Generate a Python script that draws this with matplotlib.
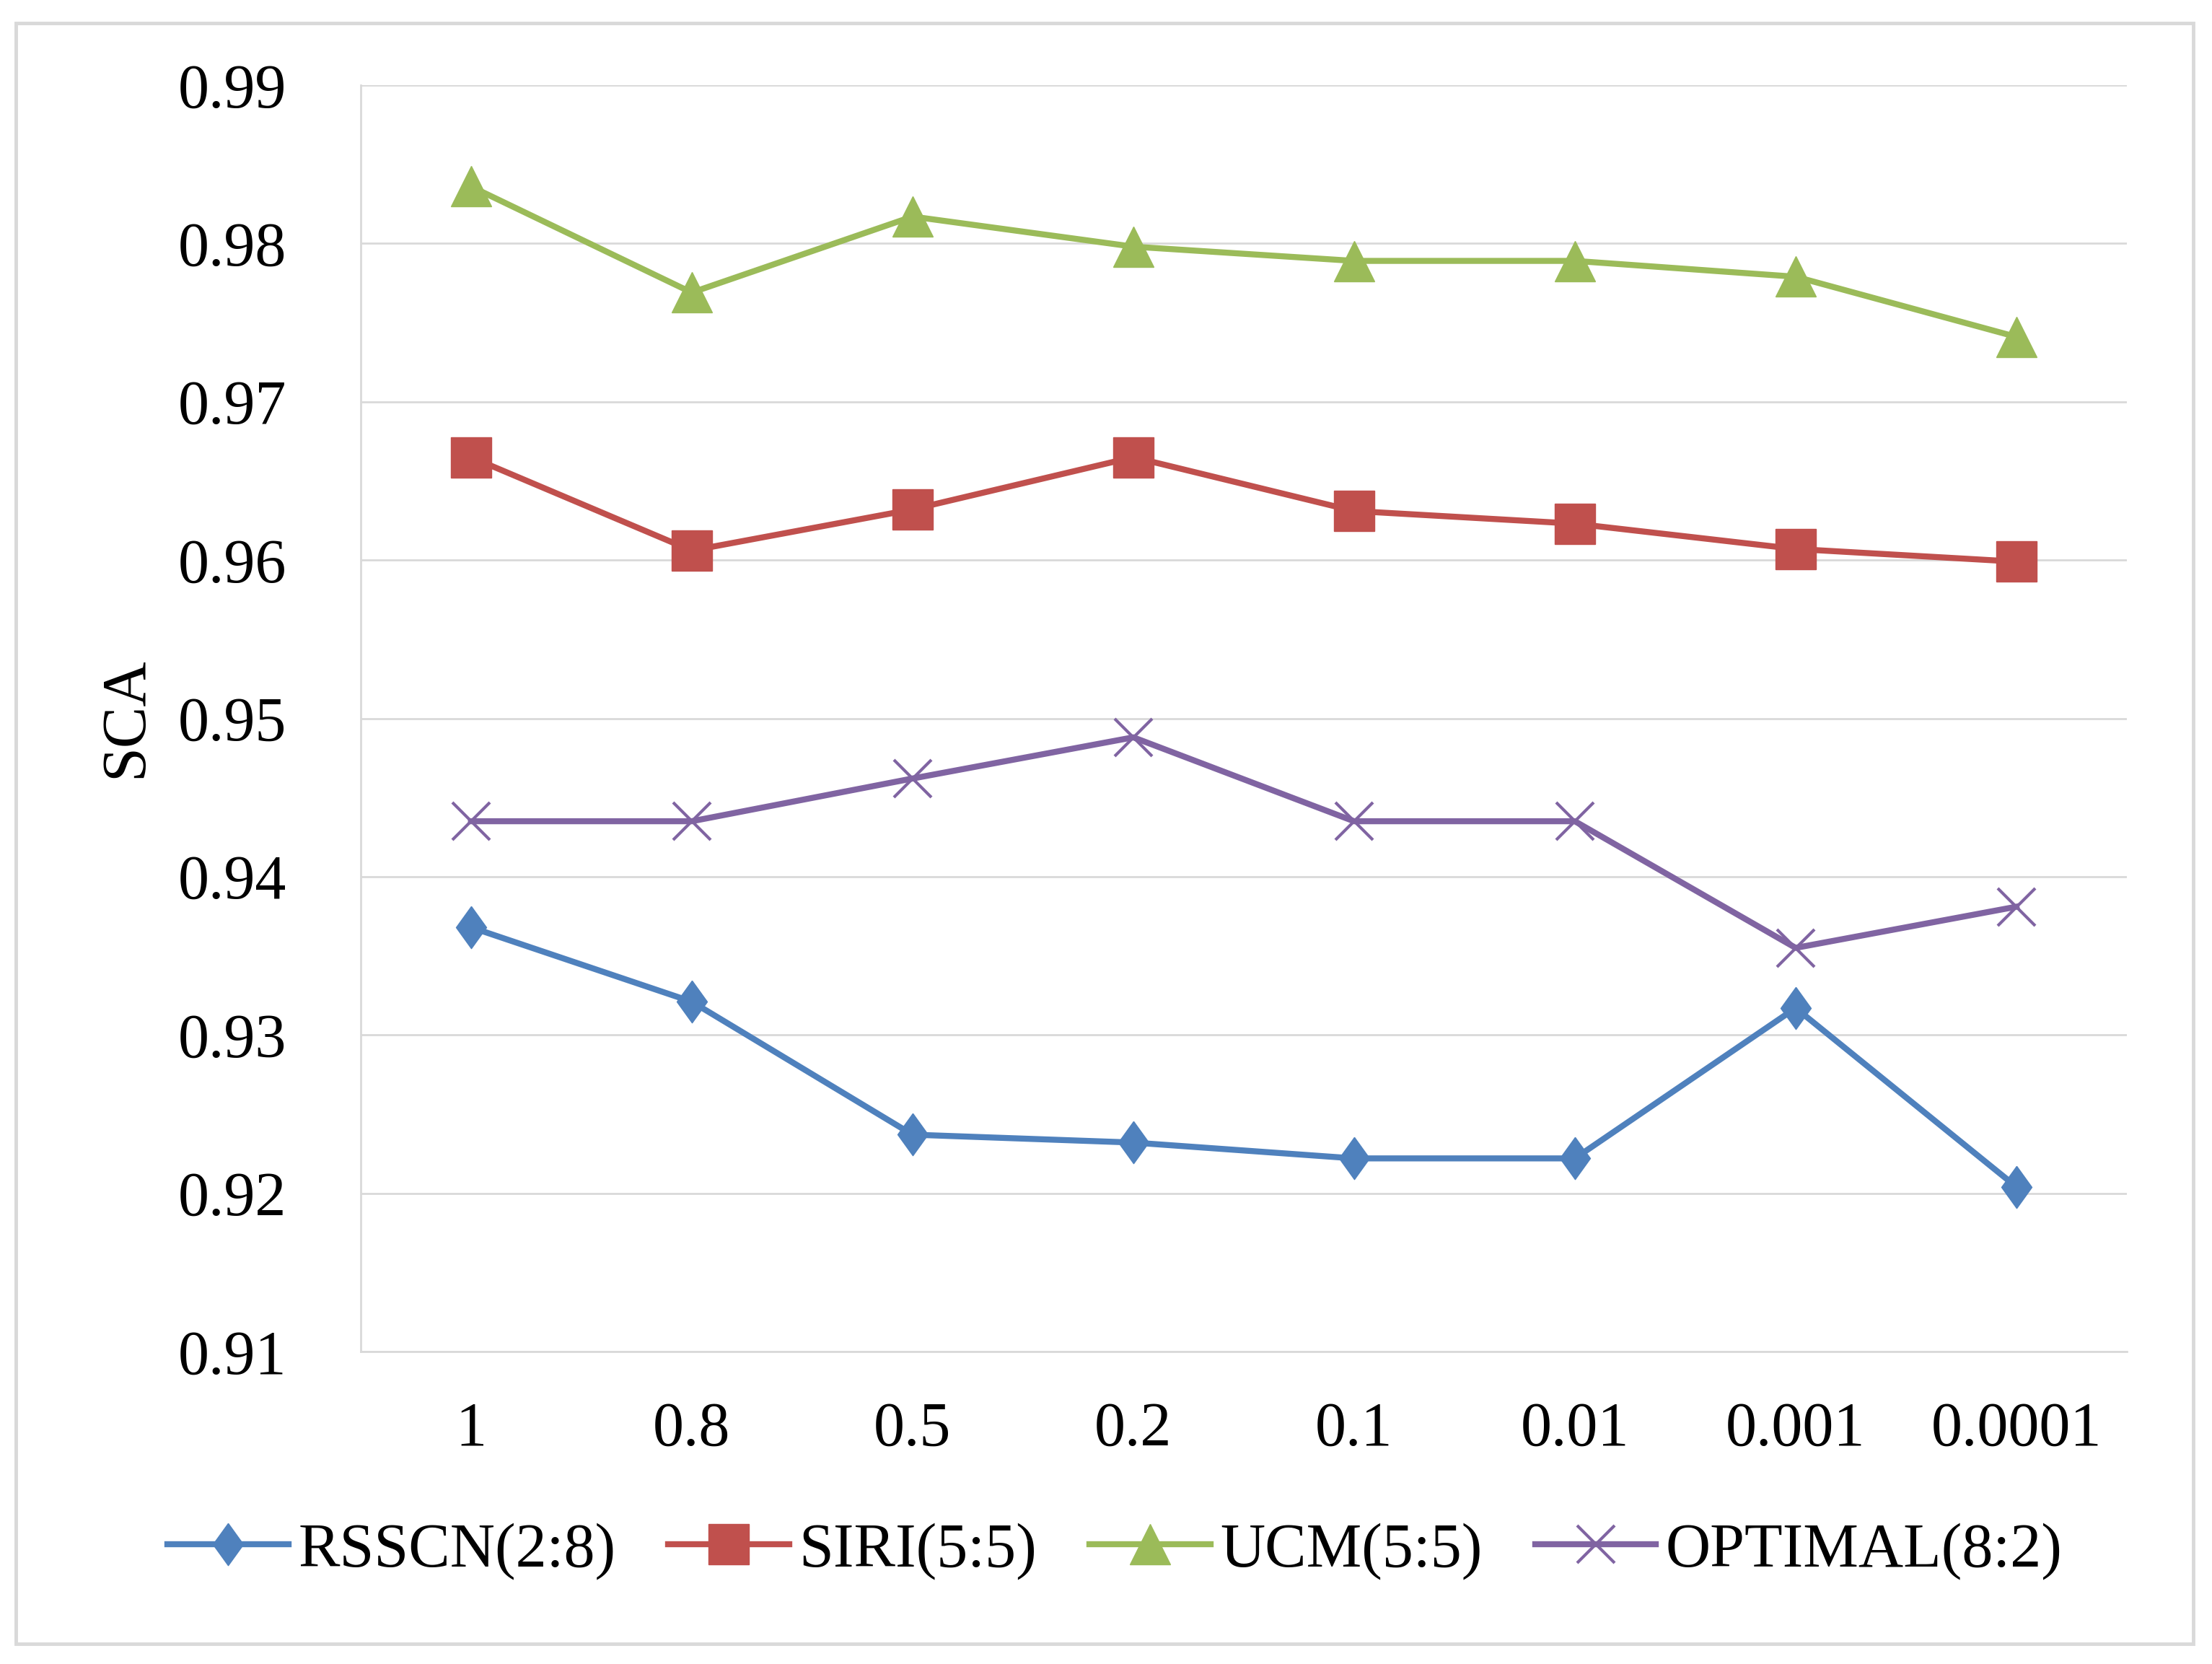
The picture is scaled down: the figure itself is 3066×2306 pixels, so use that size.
import matplotlib.pyplot as plt
from matplotlib.patches import Rectangle

# x categories (learning rate?) and SCA values
labels = ['1', '0.8', '0.5', '0.2', '0.1', '0.01', '0.001', '0.0001']

rsscn = [0.9368, 0.9321, 0.9237, 0.9232, 0.9222, 0.9222, 0.9317, 0.9204]
siri = [0.9665, 0.9606, 0.9632, 0.9665, 0.9631, 0.9623, 0.9607, 0.9599]
ucm = [0.9836, 0.9769, 0.9817, 0.9798, 0.9789, 0.9789, 0.9779, 0.9741]
optimal = [0.9435, 0.9435, 0.9462, 0.9488, 0.9435, 0.9435, 0.9355, 0.9381]

yticks = [0.91, 0.92, 0.93, 0.94, 0.95, 0.96, 0.97, 0.98, 0.99]

plt.rcParams['font.family'] = ['Liberation Serif', 'DejaVu Serif']

fig = plt.figure(figsize=(30.66, 23.06), dpi=100)
ax = fig.add_axes([0.163, 0.1878, 0.7985, 0.761])

# slightly tall diamond like the Excel one
diamond = [(0, 1), (0.72, 0), (0, -1), (-0.72, 0), (0, 1)]

x = list(range(len(labels)))
lw = 6
ax.plot(x, rsscn, color='#4F81BD', lw=lw, marker=diamond, ms=42, label='RSSCN(2:8)', zorder=3)
ax.plot(x, siri, color='#C0504D', lw=lw, marker='s', ms=41, label='SIRI(5:5)', zorder=3)
ax.plot(x, ucm, color='#9BBB59', lw=lw, marker='^', ms=40, label='UCM(5:5)', zorder=3)
ax.plot(x, optimal, color='#8064A2', lw=lw, marker='x', ms=38, mew=3, label='OPTIMAL(8:2)', zorder=3)

ax.set_xlim(-0.5, 7.5)
ax.set_ylim(0.91, 0.99)
ax.set_yticks(yticks)
ax.set_yticklabels(['%.2f' % v for v in yticks])
ax.set_xticks(x)
ax.set_xticklabels(labels)
ax.tick_params(axis='y', length=0, pad=74, labelsize=62)
ax.tick_params(axis='x', length=0, pad=50, labelsize=62)
ax.grid(axis='y', color='#D9D9D9', lw=2)
ax.set_axisbelow(True)
for s in ['top', 'right']:
    ax.spines[s].set_visible(False)
ax.spines['left'].set_color('#D9D9D9')
ax.spines['left'].set_linewidth(2)
ax.spines['bottom'].set_color('#D9D9D9')
ax.spines['bottom'].set_linewidth(2)

fig.text(0.0574, 0.569, 'SCA', rotation=90, fontsize=62, ha='center', va='center')

fig.legend(loc='center', bbox_to_anchor=(0.504, 0.0677), ncol=4, frameon=False,
           fontsize=62, handlelength=1.95, handletextpad=0.15, columnspacing=0.85)

# light grey frame around the whole chart
fig.patches.append(Rectangle((22 / 3066, 1 - 2278 / 2306), (3040 - 22) / 3066, (2278 - 32) / 2306,
                             transform=fig.transFigure, fill=False, ec='#D9D9D9', lw=3.5))

fig.savefig('out.png', dpi=100)
